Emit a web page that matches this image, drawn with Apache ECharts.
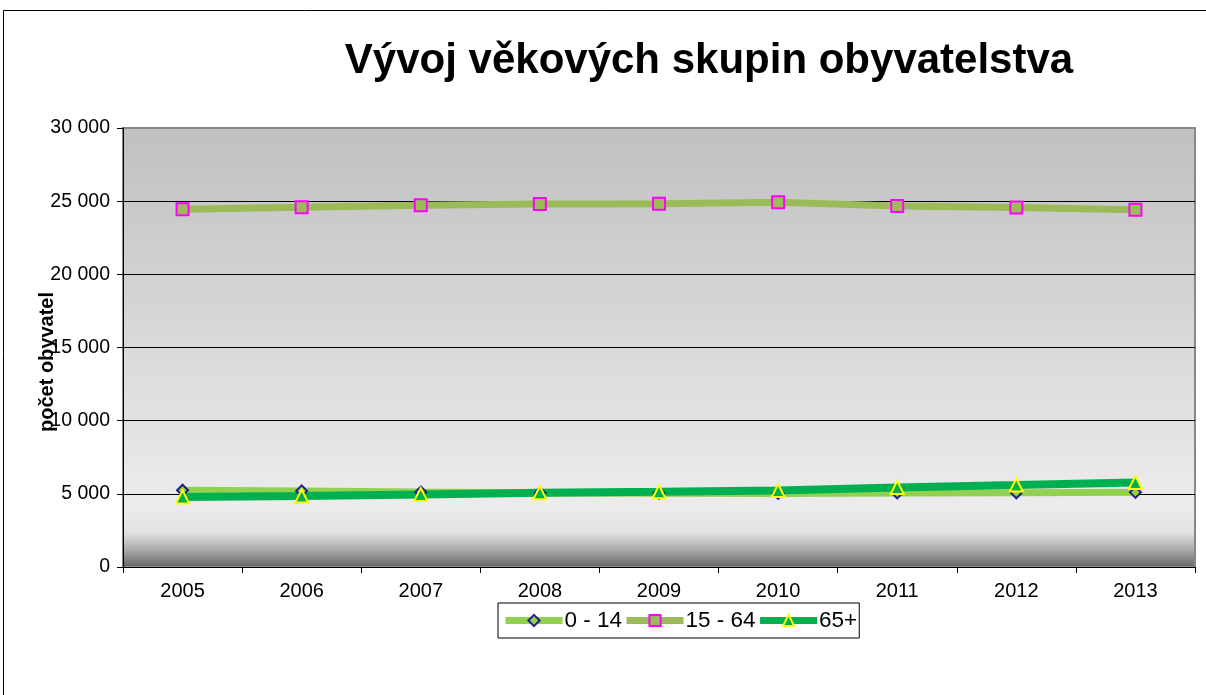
<!DOCTYPE html>
<html>
<head>
<meta charset="utf-8">
<script src="https://cdn.jsdelivr.net/npm/echarts@6/dist/echarts.min.js"></script>
<style>
  html, body { margin: 0; padding: 0; background: #fff; }
  #chart { width: 1206px; height: 695px; }
</style>
</head>
<body>
<div id="chart"></div>
<script>
  const years = ['2005', '2006', '2007', '2008', '2009', '2010', '2011', '2012', '2013'];
  const age0to14 = [5250, 5200, 5120, 5060, 5040, 5030, 5060, 5070, 5100];
  const age15to64 = [24440, 24580, 24720, 24800, 24830, 24920, 24670, 24560, 24420];
  const age65plus = [4790, 4850, 4960, 5080, 5140, 5220, 5440, 5600, 5780];
  const yTicks = [0, 5000, 10000, 15000, 20000, 25000, 30000];

  const chart = echarts.init(document.getElementById('chart'));
  const font = 'Liberation Sans, Arial, sans-serif';
  const fmt = v => String(v).replace(/\B(?=(\d{3})+(?!\d))/g, ' ');

  const option = {
    backgroundColor: '#fff',
    animation: false,
    title: {
      text: 'Vývoj věkových skupin obyvatelstva',
      left: 704,
      top: 35,
      textAlign: 'center',
      textStyle: { fontFamily: font, fontSize: 42, fontWeight: 'bold', color: '#000' }
    },
    graphic: [
      {
        type: 'rect',
        shape: { x: 3.5, y: 10.5, width: 1300, height: 800 },
        style: { fill: 'none', stroke: '#000', lineWidth: 1 },
        silent: true
      },
      {
        type: 'text',
        x: 47, y: 362,
        rotation: Math.PI / 2,
        style: {
          text: 'počet obyvatel',
          fontFamily: font, fontSize: 20, fontWeight: 'bold', fill: '#000',
          align: 'center', verticalAlign: 'middle'
        },
        z: 10
      }
    ],
    legend: {
      left: 498,
      top: 603,
      padding: [6, 2, 6, 4],
      itemGap: 1,
      itemWidth: 57,
      itemHeight: 14,
      borderColor: '#000',
      borderWidth: 1,
      lineStyle: { width: 7 },
      textStyle: { fontFamily: font, fontSize: 22.5, color: '#000', padding: [0, 0, 0, -3] },
      data: ['0 - 14', '15 - 64', '65+']
    },
    grid: {
      left: 123, right: 11, top: 128, bottom: 128,
      show: true,
      borderColor: '#888',
      borderWidth: 2,
      backgroundColor: new echarts.graphic.LinearGradient(0, 0, 0, 1, [
        { offset: 0, color: '#c0c0c0' },
        { offset: 0.86, color: '#ececec' },
        { offset: 0.92, color: '#e2e2e2' },
        { offset: 0.96, color: '#a8a8a8' },
        { offset: 1, color: '#626262' }
      ])
    },
    xAxis: {
      type: 'category',
      data: years,
      boundaryGap: true,
      axisLine: { lineStyle: { color: '#000', width: 1 } },
      axisTick: { show: true, length: 6, lineStyle: { color: '#000' } },
      axisLabel: { fontFamily: font, fontSize: 20, color: '#000', margin: 14 }
    },
    yAxis: {
      type: 'value',
      min: yTicks[0],
      max: yTicks[yTicks.length - 1],
      interval: 5000,
      axisLine: { show: true, lineStyle: { color: '#000', width: 1 } },
      axisTick: { show: true, length: 6, lineStyle: { color: '#000' } },
      axisLabel: { fontFamily: font, fontSize: 19.5, color: '#000', margin: 13, formatter: fmt },
      splitLine: {
        show: true,
        lineStyle: { color: ['#000', '#000', '#000', '#000', '#000', '#000', '#888'], width: 1 }
      }
    },
    series: [
      {
        name: '0 - 14',
        type: 'line',
        data: age0to14,
        symbol: 'diamond',
        symbolSize: 11,
        lineStyle: { color: '#92d050', width: 7 },
        itemStyle: { color: '#92d050', borderColor: '#1f1f8a', borderWidth: 2 }
      },
      {
        name: '15 - 64',
        type: 'line',
        data: age15to64,
        symbol: 'rect',
        symbolSize: 12,
        lineStyle: { color: '#9bbb59', width: 7 },
        itemStyle: { color: '#9bbb59', borderColor: '#ff00ff', borderWidth: 2 }
      },
      {
        name: '65+',
        type: 'line',
        data: age65plus,
        symbol: 'triangle',
        symbolSize: 13,
        lineStyle: { color: '#00b050', width: 8 },
        itemStyle: { color: '#00b050', borderColor: '#ffff00', borderWidth: 2 }
      }
    ]
  };

  chart.setOption(option);
</script>
</body>
</html>
